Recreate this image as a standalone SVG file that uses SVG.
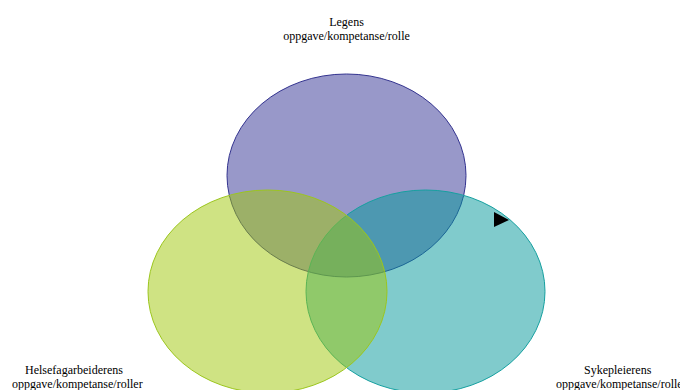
<svg xmlns="http://www.w3.org/2000/svg" width="680" height="390" viewBox="0 0 680 390">
  <style>
    .lbl { font-family: "Liberation Serif", "Times New Roman", serif; font-size: 12px; fill: #000; }
    .mid { text-anchor: middle; }
    .set { stroke-width: 1; }
  </style>
  <rect width="680" height="390" fill="#fff"/>
  <!-- three half-transparent sets; drawing order gives the overlap tints -->
  <g id="legens">
    <ellipse class="set" cx="346.5" cy="175.5" rx="119.5" ry="101.5" fill="#313193" fill-opacity="0.5" stroke="#33338f"/>
  </g>
  <g id="sykepleierens">
    <ellipse class="set" cx="425.5" cy="291.5" rx="119.5" ry="101.5" fill="#019799" fill-opacity="0.5" stroke="#16a0a0"/>
  </g>
  <g id="helsefagarbeiderens">
    <ellipse class="set" cx="267.5" cy="291.5" rx="119.5" ry="101.5" fill="#9fc707" fill-opacity="0.5" stroke="#9cc61e"/>
  </g>
  <g id="connectors">
    <polygon points="494,212 509,220 494,227" fill="#000"/>
  </g>
  <g id="labels">
    <text class="lbl mid" x="346.5" y="26">Legens</text>
    <text class="lbl mid" x="346.5" y="40">oppgave/kompetanse/rolle</text>
    <text class="lbl" x="25" y="374">Helsefagarbeiderens</text>
    <text class="lbl" x="12" y="388">oppgave/kompetanse/roller</text>
    <text class="lbl" x="584" y="374">Sykepleierens</text>
    <text class="lbl" x="556" y="388">oppgave/kompetanse/rolle</text>
  </g>
</svg>
